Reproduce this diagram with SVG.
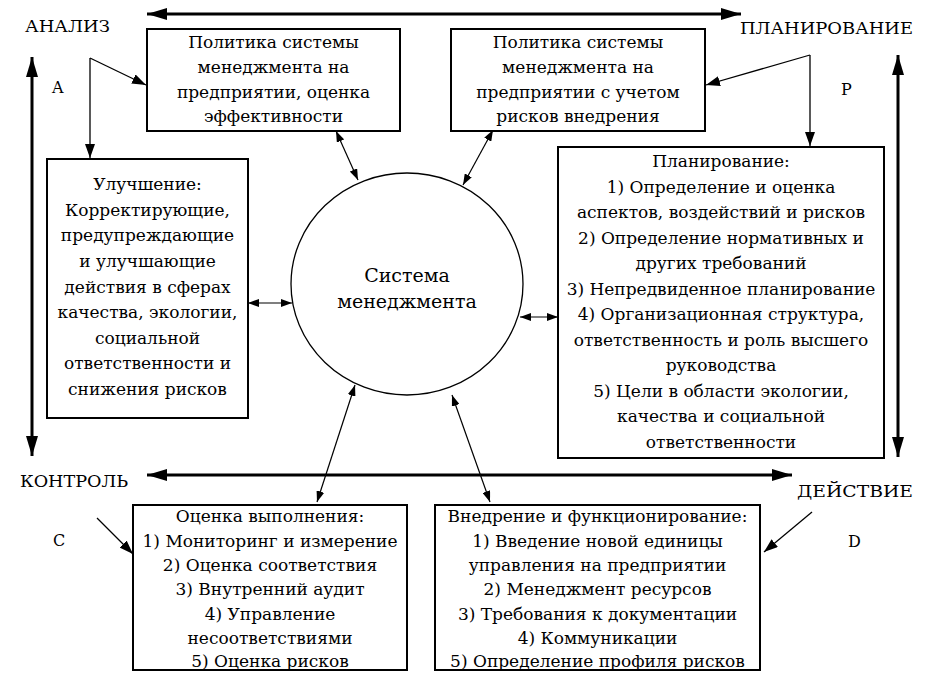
<svg xmlns="http://www.w3.org/2000/svg" width="928" height="684" viewBox="0 0 928 684">
<style>
  .box { fill: #fff; stroke: #000; stroke-width: 2; }
  .t { font-family: "DejaVu Serif", serif; font-size: 17px; fill: #000; text-anchor: middle; }
  .lbl { font-family: "DejaVu Serif", serif; font-size: 16px; fill: #000; }
  .big { stroke: #000; stroke-width: 3; fill: none; marker-start: url(#hb); marker-end: url(#hb); }
  .mid { stroke: #000; stroke-width: 1.3; fill: none; marker-end: url(#hm); }
  .thin { stroke: #000; stroke-width: 1.2; fill: none; marker-start: url(#ht); marker-end: url(#ht); }
</style>
<defs>
  <marker id="hb" markerUnits="userSpaceOnUse" markerWidth="20" markerHeight="12" refX="20" refY="6" orient="auto-start-reverse">
    <path d="M0,0 L20,6 L0,12 Z" fill="#000"/>
  </marker>
  <marker id="hm" markerUnits="userSpaceOnUse" markerWidth="14" markerHeight="10" refX="14" refY="5" orient="auto">
    <path d="M0,0 L14,5 L0,10 Z" fill="#000"/>
  </marker>
  <marker id="ht" markerUnits="userSpaceOnUse" markerWidth="11" markerHeight="8" refX="11" refY="4" orient="auto-start-reverse">
    <path d="M0,0 L11,4 L0,8 Z" fill="#000"/>
  </marker>
</defs>
<rect width="928" height="684" fill="#fff"/>

<g id="connectors">
  <line class="big" x1="147" y1="14" x2="741" y2="14"/>
  <line class="big" x1="147" y1="475" x2="792" y2="475"/>
  <line class="big" x1="32" y1="57" x2="32" y2="456"/>
  <line class="big" x1="898" y1="55" x2="898" y2="457"/>

  <polyline class="mid" points="90,58 90,158"/>
  <polyline class="mid" points="90,58 146,85"/>
  <polyline class="mid" points="810,55 810,146"/>
  <polyline class="mid" points="810,55 706,85"/>
  <line class="mid" x1="97" y1="518" x2="133" y2="554"/>
  <line class="mid" x1="812" y1="512" x2="764" y2="552"/>

  <line class="thin" x1="336" y1="131" x2="358" y2="180"/>
  <line class="thin" x1="493" y1="130" x2="463" y2="185"/>
  <line class="thin" x1="248" y1="303" x2="292" y2="303"/>
  <line class="thin" x1="520" y1="317" x2="558" y2="317"/>
  <line class="thin" x1="355" y1="385" x2="317" y2="502"/>
  <line class="thin" x1="452" y1="395" x2="490" y2="502"/>
</g>

<g id="labels">
  <text class="lbl" x="25" y="32" textLength="85" lengthAdjust="spacingAndGlyphs">АНАЛИЗ</text>
  <text class="lbl" x="740" y="34" textLength="173" lengthAdjust="spacingAndGlyphs">ПЛАНИРОВАНИЕ</text>
  <text class="lbl" x="20" y="487" textLength="108" lengthAdjust="spacingAndGlyphs">КОНТРОЛЬ</text>
  <text class="lbl" x="797" y="497" textLength="116" lengthAdjust="spacingAndGlyphs">ДЕЙСТВИЕ</text>
  <text class="lbl" x="52" y="93">A</text>
  <text class="lbl" x="841" y="95">P</text>
  <text class="lbl" x="53" y="546">C</text>
  <text class="lbl" x="848" y="547">D</text>
</g>

<g id="policy1">
  <rect class="box" x="147" y="29" width="253" height="102"/>
  <text class="t" x="273.5" y="48">Политика системы</text>
  <text class="t" x="273.5" y="73">менеджмента на</text>
  <text class="t" x="273.5" y="98">предприятии, оценка</text>
  <text class="t" x="273.5" y="122">эффективности</text>
</g>

<g id="policy2">
  <rect class="box" x="451" y="29" width="254" height="102"/>
  <text class="t" x="578" y="48">Политика системы</text>
  <text class="t" x="578" y="73">менеджмента на</text>
  <text class="t" x="578" y="98">предприятии с учетом</text>
  <text class="t" x="578" y="122">рисков внедрения</text>
</g>

<g id="improvement">
  <rect class="box" x="47" y="159" width="201" height="259"/>
  <text class="t" x="147.5" y="190">Улучшение:</text>
  <text class="t" x="147.5" y="216">Корректирующие,</text>
  <text class="t" x="147.5" y="241">предупреждающие</text>
  <text class="t" x="147.5" y="267">и улучшающие</text>
  <text class="t" x="147.5" y="293">действия в сферах</text>
  <text class="t" x="147.5" y="318">качества, экологии,</text>
  <text class="t" x="147.5" y="344">социальной</text>
  <text class="t" x="147.5" y="369">ответственности и</text>
  <text class="t" x="147.5" y="395">снижения рисков</text>
</g>

<g id="system">
  <ellipse cx="407" cy="284" rx="116" ry="111" fill="#fff" stroke="#000" stroke-width="1.3"/>
  <text class="t" x="407" y="282" style="font-size:19px">Система</text>
  <text class="t" x="407" y="308" style="font-size:19px">менеджмента</text>
</g>

<g id="planning">
  <rect class="box" x="558" y="147" width="326" height="311"/>
  <text class="t" x="721" y="167">Планирование:</text>
  <text class="t" x="721" y="193">1) Определение и оценка</text>
  <text class="t" x="721" y="218">аспектов, воздействий и рисков</text>
  <text class="t" x="721" y="244">2) Определение нормативных и</text>
  <text class="t" x="721" y="269">других требований</text>
  <text class="t" x="721" y="295">3) Непредвиденное планирование</text>
  <text class="t" x="721" y="320">4)  Организационная структура,</text>
  <text class="t" x="721" y="346">ответственность и роль высшего</text>
  <text class="t" x="721" y="371">руководства</text>
  <text class="t" x="721" y="397">5) Цели в области экологии,</text>
  <text class="t" x="721" y="422">качества и социальной</text>
  <text class="t" x="721" y="448">ответственности</text>
</g>

<g id="evaluation">
  <rect class="box" x="133" y="505" width="274" height="165"/>
  <text class="t" x="270" y="522">Оценка выполнения:</text>
  <text class="t" x="270" y="547">1) Мониторинг и измерение</text>
  <text class="t" x="270" y="571">2) Оценка соответствия</text>
  <text class="t" x="270" y="595">3) Внутренний аудит</text>
  <text class="t" x="270" y="620">4) Управление</text>
  <text class="t" x="270" y="644">несоответствиями</text>
  <text class="t" x="270" y="667">5) Оценка рисков</text>
</g>

<g id="implementation">
  <rect class="box" x="435" y="505" width="325" height="165"/>
  <text class="t" x="597.5" y="522">Внедрение и функционирование:</text>
  <text class="t" x="597.5" y="547">1) Введение новой единицы</text>
  <text class="t" x="597.5" y="571">управления на предприятии</text>
  <text class="t" x="597.5" y="595">2) Менеджмент ресурсов</text>
  <text class="t" x="597.5" y="620">3) Требования к документации</text>
  <text class="t" x="597.5" y="644">4) Коммуникации</text>
  <text class="t" x="597.5" y="667">5) Определение профиля рисков</text>
</g>
</svg>
